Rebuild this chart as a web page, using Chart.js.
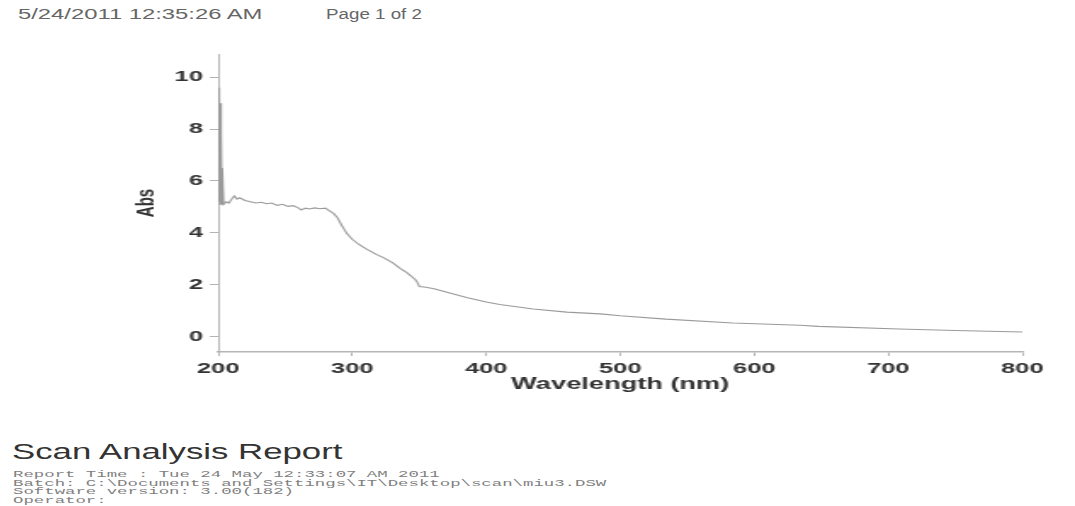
<!DOCTYPE html>
<html>
<head>
<meta charset="utf-8">
<script src="https://cdn.jsdelivr.net/npm/chart.js@4.4.0/dist/chart.umd.min.js"></script>
<style>
    html, body { margin: 0; padding: 0; background: #fff; width: 1075px; height: 506px; overflow: hidden; }
    body { position: relative; font-family: "Liberation Sans", Arial, sans-serif; }
    .stretch { position: absolute; transform-origin: 0 0; white-space: pre; }
    #hdrDate { left: 18px; top: 6px; font-size: 14px; color: #666; transform: scaleX(1.7); }
    #hdrPage { left: 326px; top: 6px; font-size: 14px; color: #666; transform: scaleX(1.34); }
    #chartBox { position: absolute; left: 123px; top: 41px; width: 549px; height: 353px; transform: scaleX(1.7); transform-origin: 0 0; }
    #title { left: 12px; top: 439px; font-size: 22px; color: #333; transform: scaleX(1.58); }
    #info { left: 13px; top: 471px; font-family: "Liberation Mono", monospace; font-size: 9.4px; line-height: 8.7px; color: #808080; transform: scaleX(1.85); }
</style>
</head>
<body>
<div id="hdrDate" class="stretch">5/24/2011 12:35:26 AM</div>
<div id="hdrPage" class="stretch">Page 1 of 2</div>
<div id="chartBox"><canvas id="myChart"></canvas></div>
<div id="title" class="stretch">Scan Analysis Report</div>
<div id="info" class="stretch">Report Time : Tue 24 May 12:33:07 AM 2011
Batch: C:\Documents and Settings\IT\Desktop\scan\miu3.DSW
Software version: 3.00(182)
Operator:</div>

<script>
// datos
const wavelengths = [200, 200.3, 200.6, 200.9, 201.2, 201.5, 201.8, 202.1, 202.4, 202.7, 203, 204, 206, 208, 210, 212, 214, 216, 220, 224, 228, 232, 236, 240, 244, 248, 252, 256, 260, 262, 265, 268, 272, 276, 280, 283, 286, 289, 292, 296, 300, 305, 311, 318, 324, 330, 336, 341, 347, 349, 350, 355, 361, 370, 386, 400, 410, 435, 460, 485, 500, 534, 584, 634, 648, 708, 750, 800];
const absValues = [9.6, 5.2, 9.5, 5.3, 9.3, 5.1, 9.0, 5.2, 8.0, 5.1, 6.5, 5.1, 5.2, 5.15, 5.3, 5.42, 5.3, 5.35, 5.25, 5.2, 5.15, 5.18, 5.12, 5.15, 5.06, 5.1, 5.02, 5.05, 4.95, 4.88, 4.95, 4.92, 4.96, 4.93, 4.95, 4.85, 4.75, 4.58, 4.3, 3.97, 3.75, 3.55, 3.36, 3.17, 3.02, 2.85, 2.62, 2.45, 2.2, 2.05, 1.93, 1.9, 1.84, 1.72, 1.49, 1.33, 1.23, 1.06, 0.94, 0.87, 0.80, 0.67, 0.52, 0.43, 0.39, 0.29, 0.23, 0.17];
const xTicks = [200, 300, 400, 500, 600, 700, 800];
const yTicks = [0, 2, 4, 6, 8, 10];

const puntos = wavelengths.map((w, i) => ({ x: w, y: absValues[i] }));
const axisColor = '#b5b5b5';
const tickFont = { family: 'Liberation Sans, Arial, sans-serif', size: 15, weight: 'bold' };

window.addEventListener('load', function() {
    const ctx = document.getElementById('myChart').getContext('2d');
    new Chart(ctx, {
        type: 'scatter',
        data: {
            datasets: [{
                label: 'Abs',
                data: puntos,
                showLine: true,
                borderColor: '#9a9a9a',
                borderWidth: 1.1,
                pointRadius: 0,
                tension: 0
            }]
        },
        options: {
            responsive: true,
            maintainAspectRatio: false,
            animation: false,
            layout: { padding: { top: 10, right: 20, left: 0, bottom: 0 } },
            plugins: {
                legend: { display: false },
                tooltip: { enabled: false }
            },
            scales: {
                x: {
                    type: 'linear',
                    min: 200,
                    max: 800,
                    afterBuildTicks: scale => { scale.ticks = xTicks.map(v => ({ value: v })); },
                    afterFit: scale => { scale.height = 42; },
                    border: { display: true, color: axisColor, width: 1.5 },
                    grid: { display: true, drawOnChartArea: false, drawTicks: true, tickLength: 4, color: axisColor },
                    ticks: { font: tickFont, color: '#333', padding: 4, maxRotation: 0 },
                    title: {
                        display: true,
                        text: 'Wavelength (nm)',
                        font: { family: 'Liberation Sans, Arial, sans-serif', size: 16, weight: 'bold' },
                        color: '#333',
                        padding: { top: 0, bottom: 0 }
                    }
                },
                y: {
                    type: 'linear',
                    min: -0.6,
                    max: 10.9,
                    afterBuildTicks: scale => { scale.ticks = yTicks.map(v => ({ value: v })); },
                    afterFit: scale => { scale.width = 56; },
                    border: { display: true, color: axisColor, width: 1 },
                    grid: { display: true, drawOnChartArea: false, drawTicks: true, tickLength: 5, color: axisColor },
                    ticks: { font: tickFont, color: '#333', padding: 4 },
                    title: {
                        display: true,
                        text: 'Abs',
                        font: { family: 'Liberation Sans, Arial, sans-serif', size: 15, weight: 'bold' },
                        color: '#333',
                        padding: { top: 5, bottom: 4 }
                    }
                }
            }
        }
    });
});
</script>
</body>
</html>
